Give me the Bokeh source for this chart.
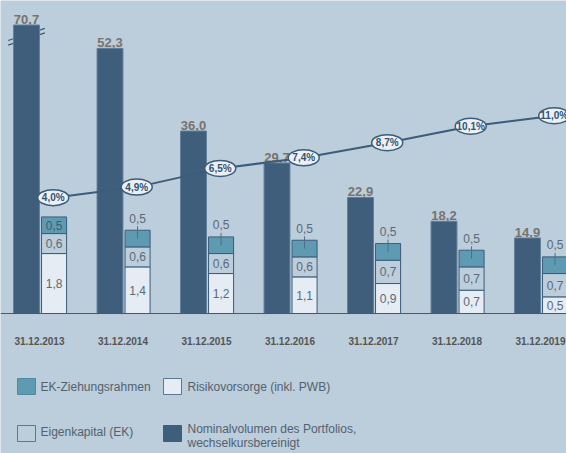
import numpy as np
from bokeh.plotting import figure
from bokeh.models import Range1d, Span
from bokeh.embed import file_html
from bokeh.resources import INLINE
from bokeh.core.properties import value

# ---------------- data ----------------
categories = ["31.12.2013", "31.12.2014", "31.12.2015", "31.12.2016",
              "31.12.2017", "31.12.2018", "31.12.2019"]
nominal = [70.7, 52.3, 36.0, 29.7, 22.9, 18.2, 14.9]          # Nominalvolumen
risiko = [1.8, 1.4, 1.2, 1.1, 0.9, 0.7, 0.5]                  # Risikovorsorge
eigenkapital = [0.6, 0.6, 0.6, 0.6, 0.7, 0.7, 0.7]            # Eigenkapital (EK)
ziehung = [0.5, 0.5, 0.5, 0.5, 0.5, 0.5, 0.5]                 # EK-Ziehungsrahmen
quote = [4.0, 4.9, 6.5, 7.4, 8.7, 10.1, 11.0]                 # percentage line
ziehung_label_inside = [True, False, False, False, False, False, False]
legend_labels = ["EK-Ziehungsrahmen", "Risikovorsorge (inkl. PWB)",
                 "Eigenkapital (EK)", "Nominalvolumen  des Portfolios,",
                 "wechselkursbereinigt"]

# ---------------- style ----------------
BG = "#bccddb"
DARK = "#3f5e7b"
DARK_EDGE = "#5f7f9b"
LINE = "#3c5c79"
TEAL = "#5e9bb3"
LIGHT = "#e5ecf3"
GRAY = "#77736f"
STACK_TXT = "#5a6a78"
LEG_TXT = "#52626f"
FONT = value("Liberation Sans")
BREAK_CAP = 56.9

W, H = 566, 453

def de(v, suffix=""):
    return f"{v:.1f}".replace(".", ",") + suffix

n = len(categories)
xs = np.arange(n, dtype=float)
sx = xs + 0.33
lx = xs + 0.32

p = figure(width=W, height=H, output_backend="svg", toolbar_location=None,
           x_range=Range1d(-0.3114, 6.467), y_range=Range1d(-27.61, 61.74),
           x_axis_location=None, y_axis_location=None,
           background_fill_color=BG, border_fill_color=BG,
           outline_line_color=None, min_border=0)
p.grid.visible = False
p.extra_y_ranges = {"stack": Range1d(-4.204, 9.399),
                    "pct": Range1d(-17.87, 20.85),
                    "px": Range1d(H, 0)}
p.extra_x_ranges = {"px": Range1d(0, W)}

# baseline
p.add_layout(Span(location=0, dimension="width", line_color=LINE, line_width=1))

# break marks for truncated bars
nom = np.array(nominal)
disp = np.minimum(nom, BREAK_CAP)
brk = xs[nom > BREAK_CAP]
if len(brk):
    mid = BREAK_CAP - 2.3
    for dy in (-0.45, 0.45):
        p.segment(x0=brk - 0.22, y0=mid - 1.2 + dy, x1=brk + 0.22, y1=mid + 1.2 + dy,
                  line_color=LINE, line_width=1.3)

# big bars
p.vbar(x=xs, bottom=0, top=disp, width=0.31, fill_color=DARK,
       line_color=DARK_EDGE, line_width=1)
p.text(x=xs, y=disp, text=[de(v) for v in nominal], text_align="center",
       text_baseline="bottom", y_offset=-1, text_font=FONT,
       text_font_style="bold", text_font_size="13px", text_color=GRAY)

# stacks
r = np.array(risiko)
e = np.array(eigenkapital)
z = np.array(ziehung)
b1 = r
b2 = r + e
b3 = r + e + z
p.vbar(x=sx, bottom=0, top=b1, width=0.30, fill_color=LIGHT, line_color=LINE,
       line_width=1, y_range_name="stack")
p.vbar(x=sx, bottom=b1, top=b2, width=0.30, fill_color=BG, line_color=LINE,
       line_width=1, y_range_name="stack")
p.vbar(x=sx, bottom=b2, top=b3, width=0.30, fill_color=TEAL, line_color=LINE,
       line_width=1, y_range_name="stack")

p.text(x=sx, y=b1 / 2, text=[de(v) for v in risiko], text_align="center",
       text_baseline="middle", text_font=FONT, text_font_size="12px",
       text_color=STACK_TXT, y_range_name="stack")
p.text(x=sx, y=(b1 + b2) / 2, text=[de(v) for v in eigenkapital], text_align="center",
       text_baseline="middle", text_font=FONT, text_font_size="12px",
       text_color=STACK_TXT, y_range_name="stack")

inside = np.array(ziehung_label_inside)
zl = [de(v) for v in ziehung]
p.text(x=sx[inside], y=((b2 + b3) / 2)[inside], text=[t for t, f in zip(zl, inside) if f],
       text_align="center", text_baseline="middle", text_font=FONT,
       text_font_size="12px", text_color="#3f5a6e", y_range_name="stack")
out = ~inside
p.segment(x0=sx[out], y0=((b2 + b3) / 2)[out], x1=sx[out], y1=b3[out] + 0.12,
          line_color="#4f6f8a", line_width=1, y_range_name="stack")
p.text(x=sx[out], y=b3[out], text=[t for t, f in zip(zl, out) if f],
       text_align="center", text_baseline="middle", y_offset=-12, text_font=FONT,
       text_font_size="12px", text_color=STACK_TXT, y_range_name="stack")

# percentage line
p.line(x=lx, y=quote, line_color=LINE, line_width=2, y_range_name="pct")
p.ellipse(x=lx, y=quote, width=31, height=16, width_units="screen",
          height_units="screen", fill_color="#eaf0f6", line_color=LINE,
          line_width=1.5, y_range_name="pct")
p.text(x=lx, y=quote, text=[de(v, "%") for v in quote], text_align="center",
       text_baseline="middle", text_font=FONT, text_font_style="bold",
       text_font_size="10px", text_color="#34536f", y_range_name="pct")

# category labels
p.text(x=xs + 0.155, y=[340] * n, text=categories, text_align="center",
       text_baseline="middle", text_font=FONT, text_font_style="bold",
       text_font_size="10px", text_color="#555555", y_range_name="px")

# legend (pixel coordinates)
sw_left = [17, 163, 17, 163]
sw_top = [378, 378, 425, 425]
sw_fill = [TEAL, LIGHT, BG, DARK]
sw_line = ["#4f8aa2", "#5c7890", "#5c7890", DARK]
p.quad(left=sw_left, right=[v + 18 for v in sw_left], top=sw_top,
       bottom=[v + 16 for v in sw_top], fill_color=sw_fill, line_color=sw_line,
       line_width=1, x_range_name="px", y_range_name="px")
p.text(x=[40, 187, 40, 187, 187], y=[386, 386, 431, 428, 442], text=legend_labels,
       text_align="left", text_baseline="middle", text_font=FONT,
       text_font_size="12px", text_color=LEG_TXT, x_range_name="px", y_range_name="px")

open("out.html", "w").write(file_html(p, INLINE))
